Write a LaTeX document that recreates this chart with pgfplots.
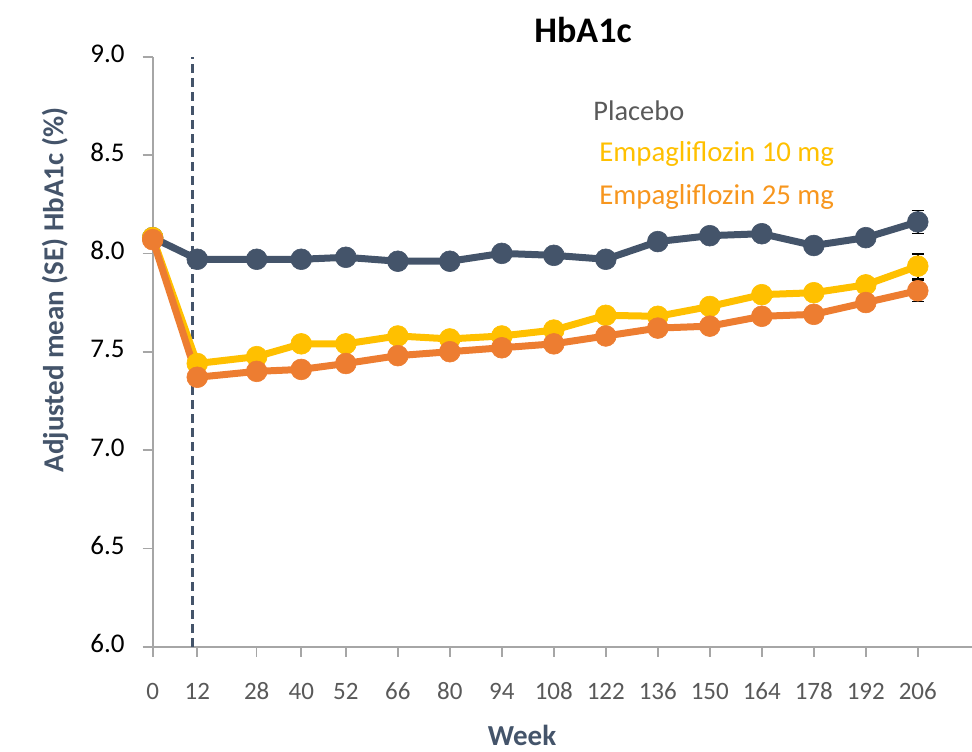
\documentclass[border=0pt]{standalone}
\usepackage{pgfplots}
\pgfplotsset{compat=1.18}
\usepackage{fontspec}
\setmainfont[Numbers=Lining]{Carlito}
\definecolor{plc}{HTML}{44546A}
\definecolor{e10}{HTML}{FFC000}
\definecolor{e25}{HTML}{ED7D31}
\definecolor{e25t}{HTML}{F7961E}
\definecolor{axg}{HTML}{A6A6A6}
\definecolor{tkg}{HTML}{595959}
\begin{document}
\begin{tikzpicture}
\useasboundingbox (0pt,0pt) rectangle (486pt,375.5pt);
\begin{axis}[
  at={(76.35pt,52.15pt)}, anchor=south west,
  scale only axis, width=409.65pt, height=295pt,
  xmin=0, xmax=220.6, ymin=6, ymax=9,
  axis x line*=bottom, axis y line*=left,
  axis line style={draw=axg, line width=0.8pt, -},
  xtick={0,12,28,40,52,66,80,94,108,122,136,150,164,178,192,206},
  ytick={6,6.5,7,7.5,8,8.5,9},
  tick align=outside, major tick length=5pt,
  tick style={draw=axg, line width=0.8pt},
  /pgf/number format/assume math mode=true,
  typeset ticklabels with strut,
  yticklabel style={/pgf/number format/fixed, /pgf/number format/fixed zerofill, /pgf/number format/precision=1, font=\fontsize{13.5}{15}\selectfont, text=black, xshift=-5.5pt},
  xticklabel style={font=\fontsize{12.5}{14}\selectfont, text=tkg, yshift=-8pt},
  clip=false,
  errb/.style={black, line width=0.8pt, mark=none, forget plot,
    error bars/.cd, y dir=both, y explicit,
    error bar style={black, line width=0.8pt},
    error mark options={rotate=90, mark size=3pt, black, line width=0.8pt}},
  ser/.style={#1, line width=3.5pt, mark=*, mark size=5.2pt, mark options={solid, line width=0.3pt, fill=#1}},
]
\addplot[plc, dashed, dash pattern=on 4.5pt off 2.5pt, line width=1.1pt, mark=none] coordinates {(10.7,6) (10.7,9)};
\addplot[errb] coordinates {(206,8.16) +- (0,0.058)};
\addplot[errb] coordinates {(206,7.935) +- (0,0.062)};
\addplot[errb] coordinates {(206,7.81) +- (0,0.054)};
\addplot[ser=plc] coordinates {
(0,8.08) (12,7.97) (28,7.97) (40,7.97) (52,7.98) (66,7.96) (80,7.96) (94,8.00) (108,7.99) (122,7.97) (136,8.06) (150,8.09) (164,8.10) (178,8.04) (192,8.08) (206,8.16)};
\addplot[ser=e10] coordinates {
(0,8.08) (12,7.44) (28,7.475) (40,7.54) (52,7.54) (66,7.58) (80,7.565) (94,7.58) (108,7.61) (122,7.685) (136,7.68) (150,7.73) (164,7.79) (178,7.80) (192,7.84) (206,7.935)};
\addplot[ser=e25] coordinates {
(0,8.07) (12,7.37) (28,7.40) (40,7.41) (52,7.44) (66,7.48) (80,7.50) (94,7.52) (108,7.54) (122,7.58) (136,7.62) (150,7.63) (164,7.68) (178,7.69) (192,7.75) (206,7.81)};
\end{axis}
\node[font=\bfseries\fontsize{18}{20}\selectfont] at (291.5pt,360.5pt) {HbA1c};
\node[anchor=west, inner sep=0pt, text=tkg, font=\fontsize{14.2}{16}\selectfont] at (296.5pt,320pt) {Placebo};
\node[anchor=west, inner sep=0pt, text=e10, font=\fontsize{14.4}{16}\selectfont] at (299.5pt,298.5pt) {Empagliflozin 10 mg};
\node[anchor=west, inner sep=0pt, text=e25t, font=\fontsize{14.4}{16}\selectfont] at (299.5pt,277pt) {Empagliflozin 25 mg};
\node[rotate=90, text=plc, font=\bfseries\fontsize{14.5}{16}\selectfont] at (27.5pt,230.5pt) {Adjusted mean (SE) HbA1c (\%)};
\node[text=plc, font=\bfseries\fontsize{14.5}{16}\selectfont] at (261pt,8pt) {Week};
\end{tikzpicture}
\end{document}
